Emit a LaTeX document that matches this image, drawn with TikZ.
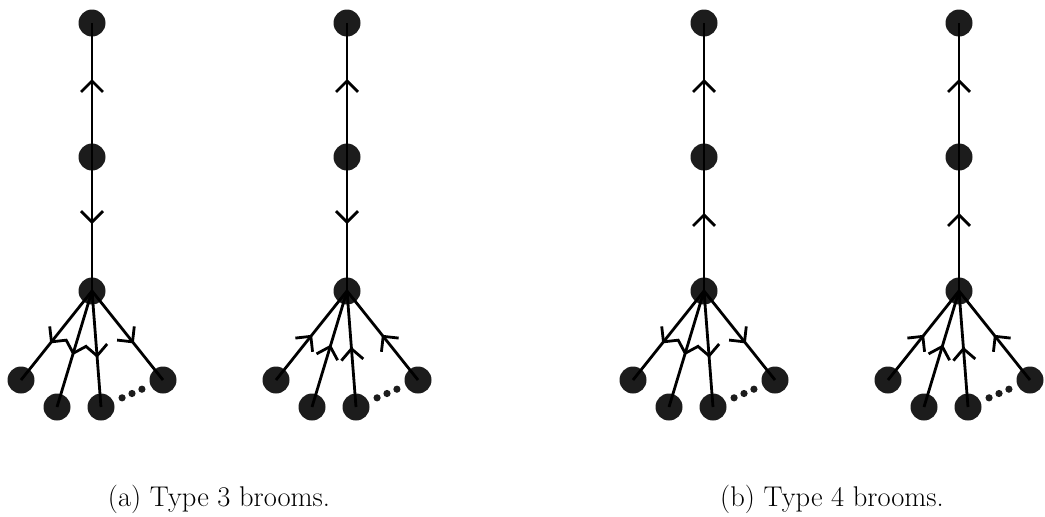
\documentclass[tikz,border=0pt]{standalone}
\usetikzlibrary{arrows.meta,decorations.markings,calc}
\definecolor{vfill}{HTML}{1C1C1C}
\tikzset{
  vtx/.style={circle, fill=vfill, inner sep=0pt, minimum size=27pt},
  link/.style={line width=2.8pt, black},
  % path drawn from the upper node: chevron points away from it
  away/.style={link, postaction={decorate},
    decoration={markings, mark=at position 67pt with
      {\arrow{Straight Barb[length=11pt,width=22pt]}}}},
  % path drawn from the lower node: chevron points toward the upper one
  toward/.style={link, postaction={decorate},
    decoration={markings, mark=at position -56pt with
      {\arrow{Straight Barb[length=11pt,width=22pt]}}}},
  captext/.style={anchor=base, font=\fontsize{28.5}{34}\selectfont},
}
% #1 prefix, #2 x offset, #3 middle edge (1 = points down, 0 = up),
% #4 leaf edges (1 = outward, 0 = inward)
\newcommand\drawbroom[4]{%
\begin{scope}[xshift=#2pt]
  \node[vtx] (#1top) at (92,23) {};
  \node[vtx] (#1mid) at (92,157) {};
  \node[vtx] (#1hub) at (92,291) {};
  \node[vtx] (#1l1) at (21,380) {};
  \node[vtx] (#1l2) at (57,407) {};
  \node[vtx] (#1l3) at (101,407) {};
  \node[vtx] (#1l4) at (163,380) {};
  \draw[toward] (#1mid.center) -- (#1top.center);
  \ifnum#3=1
    \draw[away] (#1mid.center) -- (#1hub.center);
  \else
    \draw[toward] (#1hub.center) -- (#1mid.center);
  \fi
  \foreach \k in {1,...,4}{%
    \ifnum#4=1
      \draw[away] (#1hub.center) -- (#1l\k.center);
    \else
      \draw[toward] (#1l\k.center) -- (#1hub.center);
    \fi}
  \foreach \t in {0.34,0.5,0.66}
    \fill[vfill] ($(#1l3.center)!\t!(#1l4.center)$) circle (3.6);
\end{scope}}
\begin{document}
\begin{tikzpicture}[x=1pt,y=-1pt]
  \useasboundingbox (0,0) rectangle (1045,517);
  \drawbroom{a}{0}{1}{1}
  \drawbroom{b}{255}{1}{0}
  \drawbroom{c}{612}{0}{1}
  \drawbroom{d}{867}{0}{0}
  \node[captext] (capa) at (219,506) {(a) Type 3 brooms.};
  \node[captext] (capb) at (832,506) {(b) Type 4 brooms.};
\end{tikzpicture}
\end{document}
